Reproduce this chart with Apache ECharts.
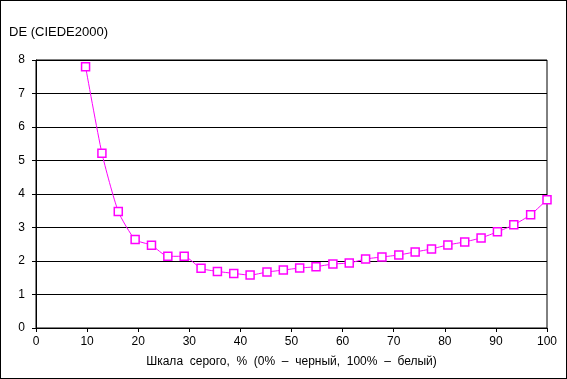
<!DOCTYPE html>
<html><head><meta charset="utf-8">
<script src="https://cdn.jsdelivr.net/npm/echarts@6/dist/echarts.min.js"></script>
<style>html,body{margin:0;padding:0;background:#fff}#c{width:567px;height:379px;box-sizing:border-box;border:1px solid #000}</style>
</head><body><div id="c"></div>
<script>
var grayPercent = [9.7, 12.9, 16.1, 19.4, 22.6, 25.8, 29.0, 32.3, 35.5, 38.7, 41.9, 45.2, 48.4, 51.6, 54.8, 58.1, 61.3, 64.5, 67.7, 71.0, 74.2, 77.4, 80.6, 83.9, 87.1, 90.3, 93.5, 96.8, 100];
var deValues = [7.80, 5.22, 3.48, 2.64, 2.47, 2.14, 2.14, 1.78, 1.69, 1.63, 1.58, 1.67, 1.73, 1.79, 1.83, 1.91, 1.94, 2.06, 2.12, 2.18, 2.27, 2.36, 2.48, 2.57, 2.69, 2.87, 3.08, 3.38, 3.83];
var yTitle = 'DE (CIEDE2000)';
var xTitle = 'Шкала  серого,  %  (0%  –  черный,  100%  –  белый)';

var chart = echarts.init(document.getElementById('c'), null, {renderer: 'canvas'});
var font = 'Liberation Sans, Arial, sans-serif';
chart.setOption({
  animation: false,
  backgroundColor: '#fff',
  title: {text: yTitle, left: 3, top: 20, textStyle: {fontFamily: font, fontSize: 13, fontWeight: 'normal', color: '#000'}},
  grid: {left: 35, right: 19, top: 59, bottom: 50, show: true, borderColor: '#000', borderWidth: 1},
  xAxis: {
    type: 'value', min: 0, max: 100, interval: 10,
    name: xTitle, nameLocation: 'middle', nameGap: 28,
    nameTextStyle: {fontFamily: font, fontSize: 12, color: '#000'},
    axisLine: {show: true, lineStyle: {color: '#000', width: 1}},
    axisTick: {show: true, length: 4, inside: false, lineStyle: {color: '#000'}},
    axisLabel: {fontFamily: font, fontSize: 12, color: '#000', margin: 8},
    splitLine: {show: false}
  },
  yAxis: {
    type: 'value', min: 0, max: 8, interval: 1,
    axisLine: {show: true, lineStyle: {color: '#000', width: 1}},
    axisTick: {show: true, length: 4, lineStyle: {color: '#000'}},
    axisLabel: {fontFamily: font, fontSize: 12, color: '#000', margin: 11},
    splitLine: {show: true, lineStyle: {color: '#000', width: 1}}
  },
  series: [{
    type: 'line',
    data: grayPercent.map(function (x, i) { return [x, deValues[i]]; }),
    smooth: 0.2,
    symbol: 'rect', symbolSize: 8,
    lineStyle: {color: '#FF00FF', width: 1},
    itemStyle: {color: '#fff', borderColor: '#FF00FF', borderWidth: 1.5}
  }]
});
</script></body></html>
